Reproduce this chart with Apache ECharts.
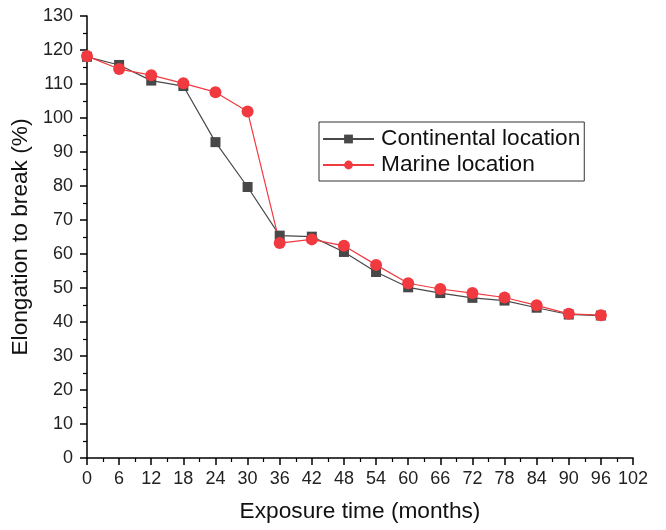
<!DOCTYPE html>
<html>
<head>
<meta charset="utf-8">
<script src="https://cdn.jsdelivr.net/npm/echarts@6/dist/echarts.min.js"></script>
<style>
html,body{margin:0;padding:0;background:#fff;}
#chart{width:666px;height:530px;}
</style>
</head>
<body>
<div id="chart"></div>
<script>
var months = [0, 6, 12, 18, 24, 30, 36, 42, 48, 54, 60, 66, 72, 78, 84, 90, 96];
var continental = [118, 115.6, 111, 109.4, 92.9, 79.7, 65.4, 65.1, 60.6, 54.7, 50.2, 48.5, 47.1, 46.3, 44.2, 42.2, 41.9];
var marine = [118.2, 114.4, 112.6, 110.2, 107.6, 101.9, 63.2, 64.3, 62.4, 56.8, 51.4, 49.7, 48.5, 47.2, 44.9, 42.4, 42];

function pairs(xs, ys) {
    var out = [];
    for (var i = 0; i < xs.length; i++) {
        out.push([xs[i], ys[i]]);
    }
    return out;
}

var font = 'Liberation Sans, Arial, sans-serif';
var bigFont = 22.7;
var axisStyle = {
    axisLine: {show: true, lineStyle: {color: '#000', width: 1.5}},
    axisTick: {show: true, inside: false, length: 7, lineStyle: {color: '#000', width: 1.5}},
    minorTick: {show: true, splitNumber: 2, length: 4, lineStyle: {color: '#000', width: 1.2}},
    splitLine: {show: false}
};

var option = {
    animation: false,
    backgroundColor: '#fff',
    grid: {left: 87, right: 33, top: 16, bottom: 72},
    legend: {
        left: 319, top: 122,
        orient: 'vertical',
        data: ['Continental location', 'Marine location'],
        borderColor: '#333', borderWidth: 1,
        padding: [5, 4, 4, 3],
        itemGap: 2,
        itemWidth: 51, itemHeight: 11,
        textStyle: {fontSize: bigFont, lineHeight: 24, fontFamily: font, color: '#111', padding: [0, 0, 0, 2]}
    },
    xAxis: Object.assign({
        type: 'value', min: 0, max: 102, interval: 6,
        name: 'Exposure time (months)', nameLocation: 'middle', nameGap: 42,
        nameTextStyle: {fontSize: bigFont, fontFamily: font, color: '#111'},
        axisLabel: {color: '#222', fontSize: 18, fontFamily: font, margin: 12}
    }, axisStyle),
    yAxis: Object.assign({
        type: 'value', min: 0, max: 130, interval: 10,
        name: 'Elongation to break (%)', nameLocation: 'middle', nameGap: 50,
        nameTextStyle: {fontSize: bigFont, fontFamily: font, color: '#111'},
        axisLabel: {color: '#222', fontSize: 18, fontFamily: font, margin: 14}
    }, axisStyle),
    series: [{
        name: 'Continental location',
        type: 'line',
        data: pairs(months, continental),
        symbol: 'rect', symbolSize: 10,
        itemStyle: {color: '#484848'},
        lineStyle: {color: '#484848', width: 1.2}
    }, {
        name: 'Marine location',
        type: 'line',
        data: pairs(months, marine),
        symbol: 'circle', symbolSize: 12,
        itemStyle: {color: '#f03a40'},
        lineStyle: {color: '#f03a40', width: 1.2}
    }]
};

var chart = echarts.init(document.getElementById('chart'));
chart.setOption(option);
</script>
</body>
</html>
